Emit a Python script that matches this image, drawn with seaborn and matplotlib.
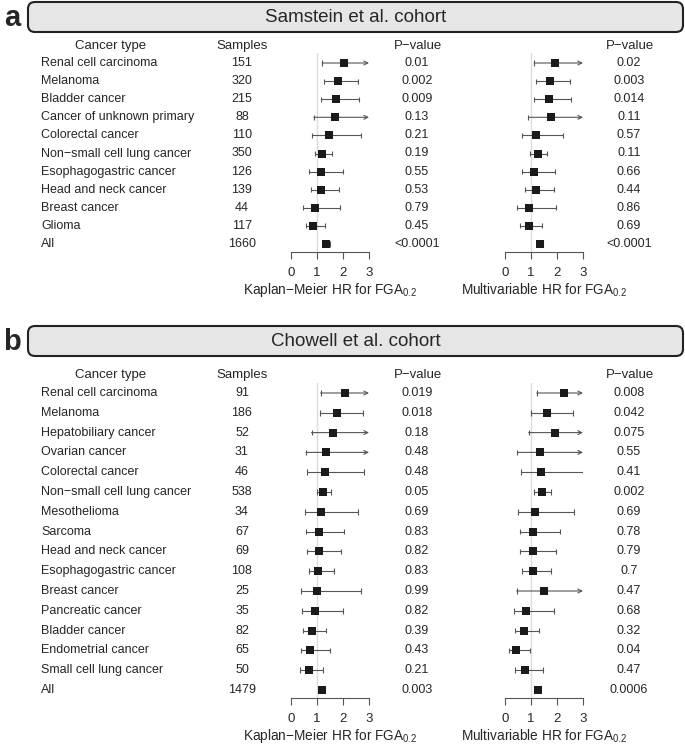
import matplotlib
matplotlib.use("Agg")
import matplotlib.pyplot as plt
import seaborn as sns
import numpy as np
import pandas as pd
from matplotlib.patches import FancyBboxPatch

OUTPUT_PATH = "out.png"
W, H = 685, 747

# ---- panel a: Samstein et al. cohort ----
a_types = ["Renal cell carcinoma", "Melanoma", "Bladder cancer", "Cancer of unknown primary",
           "Colorectal cancer", "Non\u2212small cell lung cancer", "Esophagogastric cancer",
           "Head and neck cancer", "Breast cancer", "Glioma", "All"]
a_samples = [151, 320, 215, 88, 110, 350, 126, 139, 44, 117, 1660]
a_km_hr = [2.03, 1.79, 1.74, 1.70, 1.48, 1.20, 1.17, 1.16, 0.91, 0.85, 1.36]
a_km_lo = [1.20, 1.26, 1.16, 0.88, 0.81, 0.93, 0.71, 0.75, 0.45, 0.57, 1.22]
a_km_hi = [3.40, 2.59, 2.61, 3.30, 2.69, 1.57, 1.99, 1.84, 1.89, 1.30, 1.50]
a_km_p = ["0.01", "0.002", "0.009", "0.13", "0.21", "0.19", "0.55", "0.53", "0.79", "0.45", "<0.0001"]
a_mv_hr = [1.92, 1.74, 1.69, 1.75, 1.21, 1.25, 1.12, 1.20, 0.94, 0.91, 1.33]
a_mv_lo = [1.12, 1.21, 1.11, 0.90, 0.64, 0.98, 0.67, 0.76, 0.45, 0.59, 1.22]
a_mv_hi = [3.30, 2.50, 2.54, 3.40, 2.23, 1.63, 1.93, 1.87, 1.97, 1.42, 1.45]
a_mv_p = ["0.02", "0.003", "0.014", "0.11", "0.57", "0.11", "0.66", "0.44", "0.86", "0.69", "<0.0001"]

# ---- panel b: Chowell et al. cohort ----
b_types = ["Renal cell carcinoma", "Melanoma", "Hepatobiliary cancer", "Ovarian cancer",
           "Colorectal cancer", "Non\u2212small cell lung cancer", "Mesothelioma", "Sarcoma",
           "Head and neck cancer", "Esophagogastric cancer", "Breast cancer", "Pancreatic cancer",
           "Bladder cancer", "Endometrial cancer", "Small cell lung cancer", "All"]
b_samples = [91, 186, 52, 31, 46, 538, 34, 67, 69, 108, 25, 35, 82, 65, 50, 1479]
b_km_hr = [2.08, 1.76, 1.60, 1.36, 1.32, 1.24, 1.17, 1.08, 1.08, 1.05, 0.99, 0.91, 0.79, 0.74, 0.68, 1.21]
b_km_lo = [1.14, 1.10, 0.79, 0.58, 0.62, 1.00, 0.54, 0.56, 0.60, 0.68, 0.38, 0.42, 0.45, 0.38, 0.36, 1.13]
b_km_hi = [3.60, 2.78, 3.30, 3.40, 2.82, 1.54, 2.59, 2.03, 1.94, 1.67, 2.69, 2.01, 1.36, 1.51, 1.23, 1.30]
b_km_p = ["0.019", "0.018", "0.18", "0.48", "0.48", "0.05", "0.69", "0.83", "0.82", "0.83",
          "0.99", "0.82", "0.39", "0.43", "0.21", "0.003"]
b_mv_hr = [2.27, 1.62, 1.92, 1.34, 1.38, 1.42, 1.16, 1.08, 1.06, 1.08, 1.51, 0.82, 0.73, 0.42, 0.77, 1.26]
b_mv_lo = [1.22, 1.00, 0.91, 0.48, 0.62, 1.12, 0.51, 0.56, 0.58, 0.66, 0.45, 0.34, 0.39, 0.17, 0.38, 1.17]
b_mv_hi = [4.20, 2.61, 4.00, 3.60, 2.99, 1.77, 2.65, 2.12, 1.95, 1.77, 5.00, 1.90, 1.30, 0.96, 1.47, 1.36]
b_mv_p = ["0.008", "0.042", "0.075", "0.55", "0.41", "0.002", "0.69", "0.78", "0.79", "0.7",
          "0.47", "0.68", "0.32", "0.04", "0.47", "0.0006"]

KM_LABEL = "Kaplan\u2212Meier HR for FGA$_{0.2}$"
MV_LABEL = "Multivariable HR for FGA$_{0.2}$"

sns.set_theme(style="white")
plt.rcParams["font.family"] = ["Liberation Sans", "DejaVu Sans"]
plt.rcParams["mathtext.default"] = "regular"

FS = 9
LINE_C = "#555555"
BOX_C = "#1a1a1a"


def forest(fig, x0, x1, top, bottom, ylim, hr, lo, hi, xlabel):
    ax = fig.add_axes([x0 / W, 1 - bottom / H, (x1 - x0) / W, (bottom - top) / H])
    ax.patch.set_alpha(0)
    rows = np.arange(len(hr))
    df = pd.DataFrame({"row": rows, "hr": hr, "lo": lo, "hi": hi})
    ax.axvline(1, color="#dcdcdc", lw=1, zorder=0)
    inside = df[df.hi <= 3]
    over = df[df.hi > 3]
    ax.hlines(inside.row, inside.lo, inside.hi, color=LINE_C, lw=0.8, zorder=1)
    ax.vlines(df.lo, df.row - 0.14, df.row + 0.14, color=LINE_C, lw=0.8, zorder=1)
    ax.vlines(inside.hi, inside.row - 0.14, inside.row + 0.14, color=LINE_C, lw=0.8, zorder=1)
    for _, r in over.iterrows():
        ax.annotate("", xy=(3, r.row), xytext=(r.lo, r.row),
                    arrowprops=dict(arrowstyle="->", color=LINE_C, lw=0.8,
                                    shrinkA=0, shrinkB=0, mutation_scale=7), zorder=1)
    sns.scatterplot(data=df, x="hr", y="row", marker="s", s=34, color=BOX_C,
                    linewidth=0, ax=ax, legend=False, zorder=3)
    ax.set_xlim(0, 3)
    ax.set_ylim(*ylim)
    ax.set_yticks([])
    ax.set_ylabel("")
    for s in ["top", "left", "right"]:
        ax.spines[s].set_visible(False)
    ax.spines["bottom"].set_bounds(0, 3)
    ax.spines["bottom"].set_color(LINE_C)
    ax.spines["bottom"].set_linewidth(0.8)
    ax.set_xticks([0, 1, 2, 3])
    ax.tick_params(axis="x", direction="out", length=5, width=0.8, color=LINE_C,
                   labelsize=FS + 0.5, pad=6, bottom=True)
    ax.set_xlabel(xlabel, fontsize=FS + 0.8, labelpad=1.5)
    return ax


def panel(fig, bg, letter, title, box_top, y0, dy, types, samples,
          km_hr, km_lo, km_hi, km_p, mv_hr, mv_lo, mv_hi, mv_p):
    n = len(types)
    # header box
    bg.add_patch(FancyBboxPatch((28, box_top), 655, 30,
                                boxstyle="round,pad=0,rounding_size=7",
                                fc="#e6e6e6", ec="#222222", lw=1.5))
    bg.text(356, box_top + 15.5, title, ha="center", va="center", fontsize=13.5)
    bg.text(12, box_top + 16, letter, ha="center", va="center", fontsize=21, fontweight="bold")

    top = y0 - 10
    bottom = y0 + (n - 1) * dy + 8
    ylim = ((bottom - y0) / dy, (top - y0) / dy)

    # table text shares the row scale with the forest plots
    tax = fig.add_axes([0, 1 - bottom / H, 1, (bottom - top) / H])
    tax.set_xlim(0, W)
    tax.set_ylim(*ylim)
    tax.axis("off")
    hy = -0.92
    tax.text(111, hy, "Cancer type", ha="center", va="center", fontsize=FS + 0.5)
    tax.text(242, hy, "Samples", ha="center", va="center", fontsize=FS + 0.5)
    tax.text(418, hy, "P\u2212value", ha="center", va="center", fontsize=FS + 0.5)
    tax.text(630, hy, "P\u2212value", ha="center", va="center", fontsize=FS + 0.5)
    for i in range(n):
        tax.text(41, i, types[i], ha="left", va="center", fontsize=FS)
        tax.text(242, i, str(samples[i]), ha="center", va="center", fontsize=FS)
        tax.text(417, i, km_p[i], ha="center", va="center", fontsize=FS)
        tax.text(629, i, mv_p[i], ha="center", va="center", fontsize=FS)

    forest(fig, 291, 369, top, bottom, ylim, km_hr, km_lo, km_hi, KM_LABEL)
    forest(fig, 505, 583, top, bottom, ylim, mv_hr, mv_lo, mv_hi, MV_LABEL)


fig = plt.figure(figsize=(W / 100, H / 100), dpi=100)
bg = fig.add_axes([0, 0, 1, 1])
bg.set_xlim(0, W)
bg.set_ylim(H, 0)
bg.axis("off")

panel(fig, bg, "a", "Samstein et al. cohort", 2, 63, 18.1, a_types, a_samples,
      a_km_hr, a_km_lo, a_km_hi, a_km_p, a_mv_hr, a_mv_lo, a_mv_hi, a_mv_p)
panel(fig, bg, "b", "Chowell et al. cohort", 326, 393, 19.8, b_types, b_samples,
      b_km_hr, b_km_lo, b_km_hi, b_km_p, b_mv_hr, b_mv_lo, b_mv_hi, b_mv_p)

fig.savefig(OUTPUT_PATH, dpi=100)
